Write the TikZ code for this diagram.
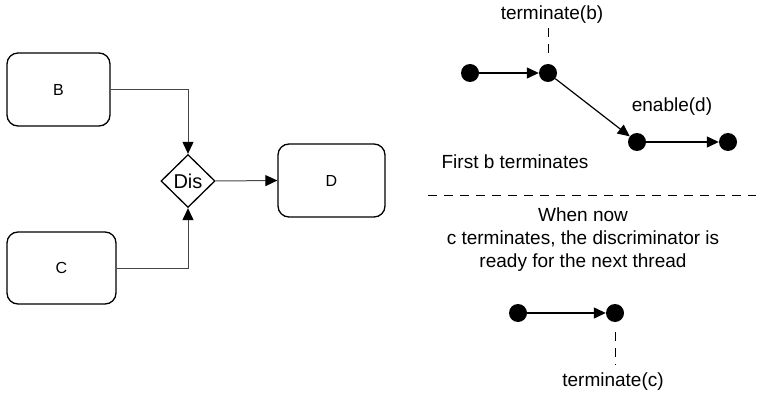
\documentclass[tikz,border=0pt]{standalone}
\usepackage{fontspec}
\setmainfont{Liberation Sans}
\usetikzlibrary{arrows.meta,shapes.geometric}
\definecolor{conncol}{RGB}{70,70,70}
\begin{document}
\begin{tikzpicture}[x=1pt,y=-1pt,
  box/.style={draw=black,line width=1.3pt,rounded corners=11pt,inner sep=0pt,font=\fontsize{16}{19}\selectfont},
  dis/.style={draw=black,line width=1.3pt,diamond,inner sep=0pt,minimum width=54pt,minimum height=53pt,font=\fontsize{20}{24}\selectfont},
  conn/.style={draw=conncol,line width=1pt,-{Triangle[length=12pt,width=11pt,color=black]}},
  dot/.style={circle,fill=black,inner sep=0pt,minimum size=18pt},
  darr/.style={draw=black,line width=1.2pt,-{Triangle[length=12pt,width=11pt]}},
  dashln/.style={draw=black,line width=1pt,dash pattern=on 9pt off 7pt},
  lbl/.style={inner sep=0pt,align=center,font=\fontsize{19}{23}\selectfont}]
\useasboundingbox (0,0) rectangle (760,393);
% left diagram
\node[box,minimum width=103pt,minimum height=73pt] (B) at (58.5,89.5) {B};
\node[box,minimum width=109pt,minimum height=72pt] (C) at (61.5,268) {C};
\node[box,minimum width=107pt,minimum height=73pt] (D) at (331.5,180.5) {D};
\node[dis] (Dis) at (188,181) {Dis};
\draw[conn] (B.east) -| (Dis.north);
\draw[conn] (C.east) -| (Dis.south);
\draw[conn] (Dis.east) -- (D.west);
% right top
\node[lbl] (tb) at (552,15) {terminate(b)};
\node[dot] (d1) at (470,73) {};
\node[dot] (d2) at (548,73) {};
\node[dot] (d3) at (637,142) {};
\node[dot] (d4) at (728,142) {};
\node[lbl] (en) at (672,107) {enable(d)};
\node[lbl] (fb) at (515,162) {First b terminates};
\coordinate (tbtop) at (548,28);
\coordinate (tbbot) at (548,60);
\draw[dashln] (tbtop) -- (tbbot);
\draw[darr] (d1) -- (d2);
\draw[darr] (d2) -- (d3);
\draw[darr] (d3) -- (d4);
% separator
\coordinate (sepL) at (428,195);
\coordinate (sepR) at (756,195);
\draw[dashln] (sepL) -- (sepR);
\node[lbl] (wn) at (583,240) {When now\\c terminates, the discriminator is\\ready for the next thread};
% right bottom
\node[dot] (e1) at (518,313) {};
\node[dot] (e2) at (615,313) {};
\draw[darr] (e1) -- (e2);
\coordinate (tctop) at (615,332);
\coordinate (tcbot) at (615,365);
\draw[dashln] (tctop) -- (tcbot);
\node[lbl] (tc) at (613,382) {terminate(c)};
\end{tikzpicture}
\end{document}
